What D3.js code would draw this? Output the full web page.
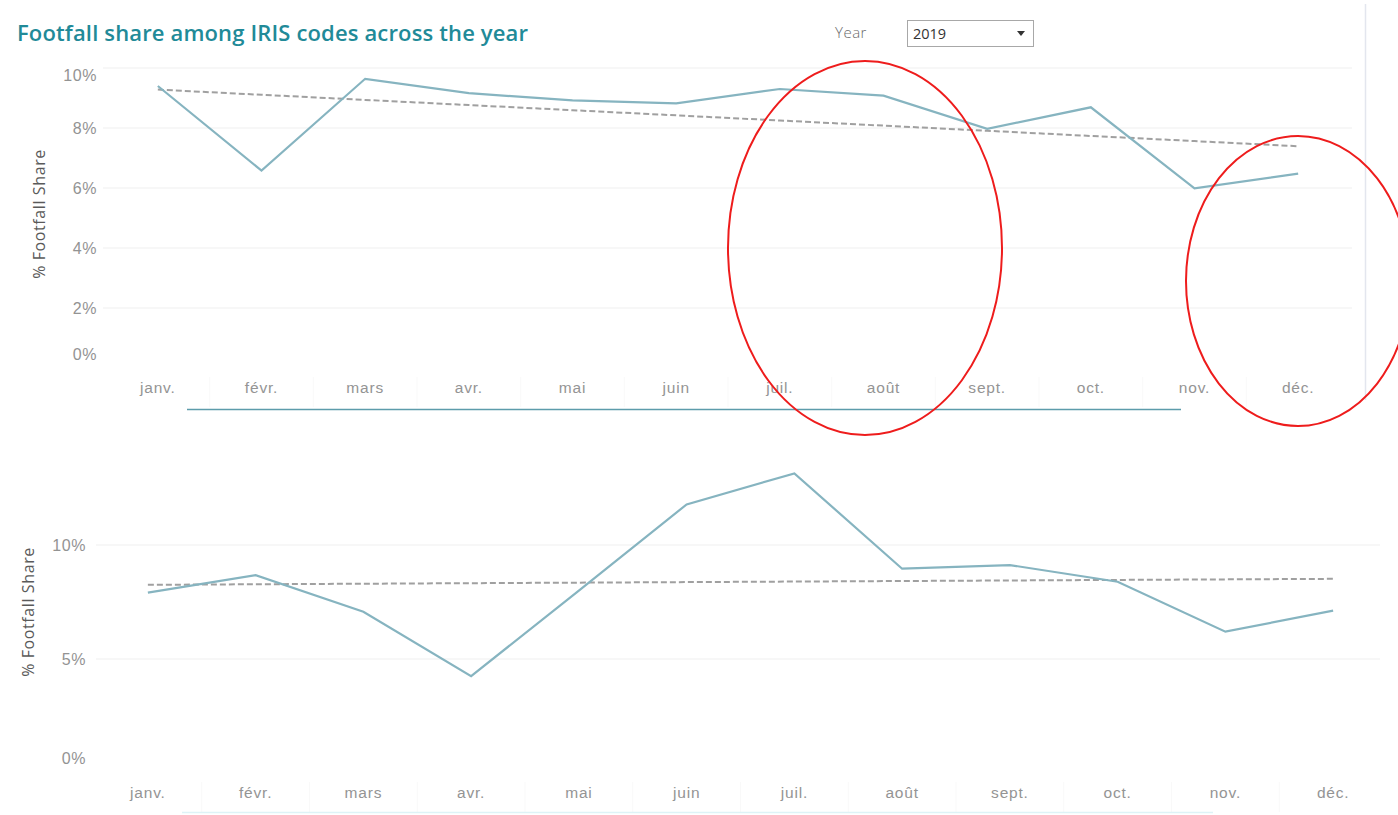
<!DOCTYPE html>
<html>
<head>
<meta charset="utf-8">
<script src="https://cdn.jsdelivr.net/npm/d3@7"></script>
<style>
  html, body { margin: 0; padding: 0; background: #fff; }
  svg { display: block; font-family: "Open Sans", "DejaVu Sans", sans-serif; }
</style>
</head>
<body>
<svg id="chart" width="1398" height="815"></svg>
<script>
// Months shown on both x axes
const months = ["janv.", "févr.", "mars", "avr.", "mai", "juin",
                "juil.", "août", "sept.", "oct.", "nov.", "déc."];

// Monthly footfall share, upper view (year 2019)
const shareUpper = [0.0940, 0.0658, 0.0964, 0.0916, 0.0892, 0.0882,
                    0.0930, 0.0908, 0.0797, 0.0869, 0.0599, 0.0648];

// Monthly footfall share, lower view
const shareLower = [0.0791, 0.0868, 0.0707, 0.0425, 0.0800, 0.1178,
                    0.1314, 0.0896, 0.0912, 0.0839, 0.0620, 0.0712];

// Y tick values
const ticksUpper = [0, 0.02, 0.04, 0.06, 0.08, 0.10];
const ticksLower = [0, 0.05, 0.10];

const yearOptions = ["2019"];

const svg = d3.select("#chart");
const pct = d3.format(".0%");

// Least-squares trend over month index
function linearTrend(values) {
  const n = values.length;
  const xs = d3.range(n);
  const mx = d3.mean(xs), my = d3.mean(values);
  const sxy = d3.sum(xs, (x, i) => (x - mx) * (values[i] - my));
  const sxx = d3.sum(xs, x => (x - mx) * (x - mx));
  const slope = sxy / sxx;
  return xs.map(x => my + slope * (x - mx));
}

function drawPanel(cfg) {
  const g = svg.append("g");
  const x = d3.scaleBand().domain(months).range(cfg.xRange).paddingInner(0).paddingOuter(0);
  const y = d3.scaleLinear().domain([0, 0.10]).range(cfg.yRange);
  const cx = m => x(m) + x.bandwidth() / 2;

  // horizontal gridlines
  g.append("g").selectAll("line")
    .data(cfg.ticks.filter(t => t > 0))
    .join("line")
    .attr("x1", cfg.gridX[0]).attr("x2", cfg.gridX[1])
    .attr("y1", d => y(d)).attr("y2", d => y(d))
    .attr("stroke", "#efefef").attr("stroke-width", 1);

  // y axis labels (kept inside the pane at the ends)
  const yAxis = d3.axisLeft(y).tickValues(cfg.ticks).tickFormat(pct).tickSize(0).tickPadding(0);
  const ya = g.append("g").attr("transform", `translate(${cfg.yLabelX},0)`).call(yAxis);
  ya.select(".domain").remove();
  ya.selectAll("text")
    .attr("fill", "#939393").attr("font-size", 16).attr("font-weight", 300)
    .attr("letter-spacing", 0.6)
    .attr("transform", d => `translate(0,${Math.max(cfg.paneTop - y(d), Math.min(0, cfg.paneBottom - y(d)))})`);

  // y axis title
  g.append("text")
    .attr("transform", `translate(${cfg.titleX},${cfg.titleY}) rotate(-90)`)
    .attr("text-anchor", "middle").attr("dominant-baseline", "central")
    .attr("fill", "#5a5a5a").attr("font-size", 16).attr("letter-spacing", 0.6)
    .text("% Footfall Share");

  // faint separators between month headers
  g.append("g").selectAll("line")
    .data(months.slice(1))
    .join("line")
    .attr("x1", d => x(d)).attr("x2", d => x(d))
    .attr("y1", cfg.monthY - 16).attr("y2", cfg.monthY + 14)
    .attr("stroke", "#f9f9f9");

  // x axis month labels
  const xAxis = d3.axisBottom(x).tickSize(0).tickPadding(0);
  const xa = g.append("g").attr("transform", `translate(0,${cfg.monthY})`).call(xAxis);
  xa.select(".domain").remove();
  xa.selectAll("text").attr("fill", "#949494").attr("font-size", 15.5)
    .attr("font-weight", 300).attr("letter-spacing", 0.8).attr("dy", "0");

  // trend line
  const trend = linearTrend(cfg.values);
  g.append("path")
    .datum(trend)
    .attr("fill", "none")
    .attr("stroke", "#a0a0a0").attr("stroke-width", 2)
    .attr("stroke-dasharray", "6,3")
    .attr("d", d3.line().x((d, i) => cx(months[i])).y(d => y(d)));

  // share line
  g.append("path")
    .datum(cfg.values)
    .attr("fill", "none")
    .attr("stroke", "#86b4c0").attr("stroke-width", 2.2)
    .attr("stroke-linejoin", "miter")
    .attr("d", d3.line().x((d, i) => cx(months[i])).y(d => y(d)));

  // scroll bar under the month headers
  g.append("line")
    .attr("x1", cfg.bar[0]).attr("x2", cfg.bar[1])
    .attr("y1", cfg.bar[2]).attr("y2", cfg.bar[2])
    .attr("stroke", cfg.bar[3]).attr("stroke-width", 1.5);
}

// Title
svg.append("text")
  .attr("x", 17).attr("y", 41)
  .attr("fill", "#218a98").attr("font-size", 22).attr("font-weight", 600)
  .attr("textLength", 511).attr("lengthAdjust", "spacing")
  .text("Footfall share among IRIS codes across the year");

// Year selector
svg.append("text")
  .attr("x", 835).attr("y", 38)
  .attr("fill", "#6a6a6a").attr("font-size", 15).attr("font-weight", 300)
  .attr("letter-spacing", 0.5)
  .text("Year");
svg.append("rect")
  .attr("x", 907.5).attr("y", 20.5).attr("width", 126).attr("height", 26)
  .attr("fill", "#fff").attr("stroke", "#a8a8a8");
svg.append("text")
  .attr("x", 913).attr("y", 39)
  .attr("fill", "#333").attr("font-size", 14.5)
  .text(yearOptions[0]);
svg.append("path")
  .attr("d", "M1017,31 L1025,31 L1021,36 Z")
  .attr("fill", "#333");

// Right edge of the dashboard container
svg.append("line")
  .attr("x1", 1365.5).attr("x2", 1365.5).attr("y1", 4).attr("y2", 400)
  .attr("stroke", "#e3e6ee").attr("stroke-width", 1.5);

drawPanel({
  values: shareUpper, ticks: ticksUpper,
  xRange: [106, 1350], yRange: [368, 68],
  gridX: [103, 1352], yLabelX: 97,
  paneTop: 75, paneBottom: 354,
  titleX: 39, titleY: 214,
  monthY: 393,
  bar: [187, 1181, 409.5, "#5d9cab"]
});

drawPanel({
  values: shareLower, ticks: ticksLower,
  xRange: [94, 1387], yRange: [773, 545],
  gridX: [96, 1380], yLabelX: 86,
  paneTop: 470, paneBottom: 758,
  titleX: 28, titleY: 612,
  monthY: 798,
  bar: [182, 1213, 812.5, "#def3f7"]
});

// Highlight ellipses
const highlights = [
  { cx: 865, cy: 248, rx: 137, ry: 187 },
  { cx: 1298, cy: 281, rx: 112, ry: 145 }
];
svg.append("g").selectAll("ellipse")
  .data(highlights)
  .join("ellipse")
  .attr("cx", d => d.cx).attr("cy", d => d.cy)
  .attr("rx", d => d.rx).attr("ry", d => d.ry)
  .attr("fill", "none").attr("stroke", "#ee1c1c").attr("stroke-width", 2);
</script>
</body>
</html>
